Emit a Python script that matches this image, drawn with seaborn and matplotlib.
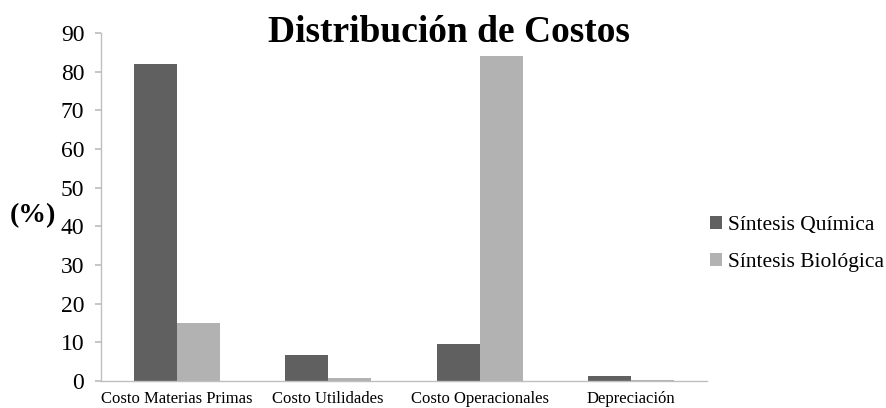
import pandas as pd
import matplotlib.pyplot as plt
import seaborn as sns

categorias = ['Costo Materias Primas', 'Costo Utilidades', 'Costo Operacionales', 'Depreciación']
quimica = [82.1, 6.7, 9.6, 1.3]
biologica = [15.0, 0.8, 84.0, 0.2]
series = ['Síntesis Química', 'Síntesis Biológica']

df = pd.DataFrame({
    'categoria': categorias * 2,
    'valor': quimica + biologica,
    'serie': [series[0]] * 4 + [series[1]] * 4,
})

sns.set_theme(style='white', rc={'text.color': 'black', 'xtick.color': 'black',
                                 'ytick.color': 'black', 'axes.labelcolor': 'black'})
plt.rcParams['font.family'] = ['Liberation Serif', 'DejaVu Serif']
fuente = 'Liberation Serif'

fig = plt.figure(figsize=(8.87, 4.08), dpi=100)
ax = fig.add_axes([101 / 887, 1 - 381 / 408, (707 - 101) / 887, (381 - 33) / 408])

sns.barplot(data=df, x='categoria', y='valor', hue='serie', ax=ax,
            palette=['#606060', '#b2b2b2'], width=0.57, saturation=1, linewidth=0)

ax.set_ylim(0, 90)
ax.set_yticks(range(0, 91, 10))
ax.set_yticklabels([str(v) for v in range(0, 91, 10)], fontsize=17, family=fuente, color='black')
ax.set_xticks(range(len(categorias)))
ax.set_xticklabels(categorias, fontsize=12, family=fuente, color='black')
ax.tick_params(axis='y', length=4, color='#bfbfbf', left=True, pad=8)
ax.tick_params(axis='x', length=0, pad=7)
ax.set_xlabel('')
ax.set_ylabel('(%)', fontsize=20, fontweight='bold', rotation=0, family=fuente,
              color='black', va='center', ha='center')
ax.yaxis.set_label_coords(-0.113, 0.475)
for s in ['top', 'right']:
    ax.spines[s].set_visible(False)
for s in ['left', 'bottom']:
    ax.spines[s].set_color('#bfbfbf')
    ax.spines[s].set_linewidth(1)

fig.text(449 / 887, 1 - 33 / 408, 'Distribución de Costos', fontsize=27, fontweight='bold',
         family=fuente, color='black', ha='center', va='center')

leg = ax.legend(loc='center left', bbox_to_anchor=(710 / 887, 1 - 244 / 408), bbox_transform=fig.transFigure,
                frameon=False, prop={'family': fuente, 'size': 15.5}, handlelength=0.55, handleheight=0.55,
                handletextpad=0.3, labelspacing=0.85, borderaxespad=0, borderpad=0)
for t in leg.get_texts():
    t.set_color('black')

fig.savefig('out.png', dpi=100)
